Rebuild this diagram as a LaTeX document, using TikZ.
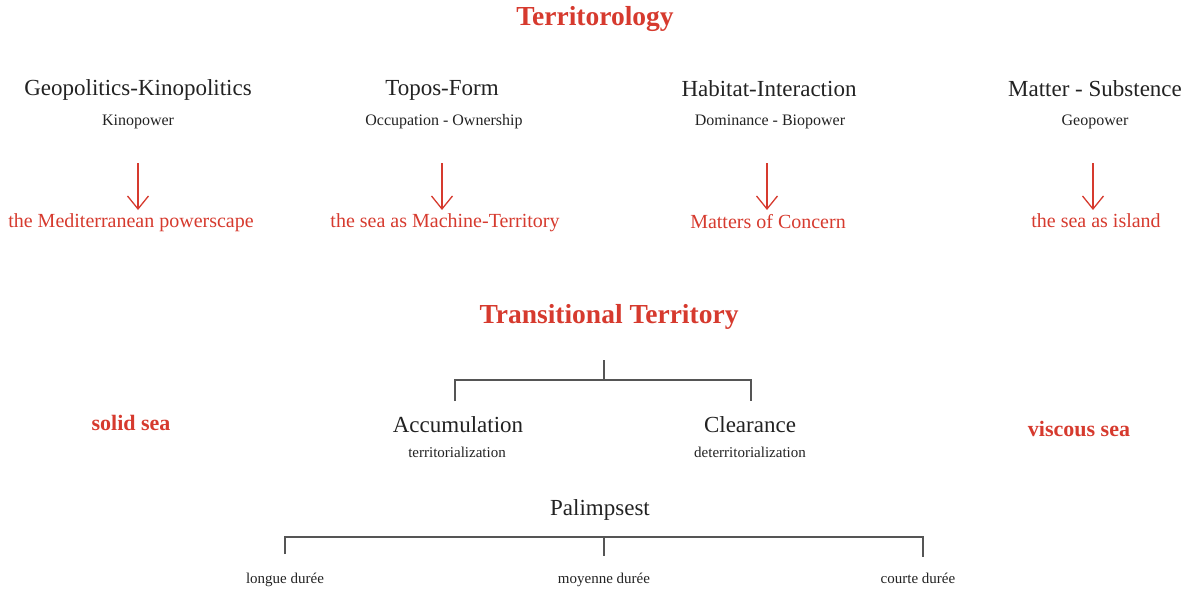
\documentclass[tikz,border=0pt]{standalone}
\usepackage{fontspec}
\setmainfont{Liberation Serif}
\usetikzlibrary{arrows.meta}
\definecolor{tred}{RGB}{214,58,46}
\definecolor{tink}{RGB}{34,34,34}
\definecolor{tline}{RGB}{85,85,85}
\tikzset{
  title/.style={inner sep=0pt, anchor=base, text=tred, font=\fontsize{27.5}{30}\selectfont\bfseries},
  head/.style={inner sep=0pt, anchor=base, text=tink, font=\fontsize{23}{26}\selectfont},
  sub/.style={inner sep=0pt, anchor=base, text=tink, font=\fontsize{16}{18}\selectfont},
  small/.style={inner sep=0pt, anchor=base, text=tink, font=\fontsize{15}{17}\selectfont},
  redtxt/.style={inner sep=0pt, anchor=base, text=tred, font=\fontsize{20}{23}\selectfont},
  sea/.style={inner sep=0pt, anchor=base, text=tred, font=\fontsize{22}{25}\selectfont\bfseries},
  arr/.style={draw=tred, line width=1.3pt, -{Straight Barb[length=13pt,width=21pt]}},
  tree/.style={draw=tline, line width=1.3pt}
}
\begin{document}
\begin{tikzpicture}[x=1pt,y=-1pt]
\useasboundingbox (0,0) rectangle (1186,592);
% titles
\node[title] (terr) at (595,25) {Territorology};
% headings
\node[head] (h1) at (138,95) {Geopolitics-Kinopolitics};
\node[head] (h2) at (442,95) {Topos-Form};
\node[head] (h3) at (769,96) {Habitat-Interaction};
\node[head] (h4) at (1095,96) {Matter - Substence};
\node[sub] (s1) at (138,125) {Kinopower};
\node[sub] (s2) at (444,125) {Occupation - Ownership};
\node[sub] (s3) at (770,125) {Dominance - Biopower};
\node[sub] (s4) at (1095,125) {Geopower};
% red results
\node[redtxt] (r1) at (131,227) {the Mediterranean powerscape};
\node[redtxt] (r2) at (445,227) {the sea as Machine-Territory};
\node[redtxt] (r3) at (768,228.5) {Matters of Concern};
\node[redtxt] (r4) at (1096,227) {the sea as island};
% arrows
\coordinate (a1) at (138,163);
\coordinate (a2) at (442,163);
\coordinate (a3) at (767,163);
\coordinate (a4) at (1093,163);
\draw[arr] (a1) -- (a1 |- 0,210);
\draw[arr] (a2) -- (a2 |- 0,210);
\draw[arr] (a3) -- (a3 |- 0,210);
\draw[arr] (a4) -- (a4 |- 0,210);
% transitional territory
\node[title] (tt) at (609,323) {Transitional Territory};
\node[head] (acc) at (458,432) {Accumulation};
\node[head] (clr) at (750,432) {Clearance};
\node[small] (accs) at (457,457) {territorialization};
\node[small] (clrs) at (750,457) {deterritorialization};
\node[sea] (solid) at (131,430) {solid sea};
\node[sea] (visc) at (1079,436) {viscous sea};
\coordinate (tt-top) at (604,360);
\coordinate (tt-j) at (604,380);
\coordinate (acc-t) at (455,401);
\coordinate (clr-t) at (751,401);
\draw[tree] (tt-top) -- (tt-j);
\draw[tree] (acc-t) |- (tt-j) -| (clr-t);
% palimpsest
\node[head] (pal) at (600,515) {Palimpsest};
\node[small] (lon) at (285,583) {longue durée};
\node[small] (moy) at (604,583) {moyenne durée};
\node[small] (cou) at (918,583) {courte durée};
\coordinate (p-j) at (604,537);
\coordinate (lon-t) at (285,554);
\coordinate (moy-t) at (604,556);
\coordinate (cou-t) at (923,557);
\draw[tree] (lon-t) |- (p-j) -| (cou-t);
\draw[tree] (p-j) -- (moy-t);
\end{tikzpicture}
\end{document}
